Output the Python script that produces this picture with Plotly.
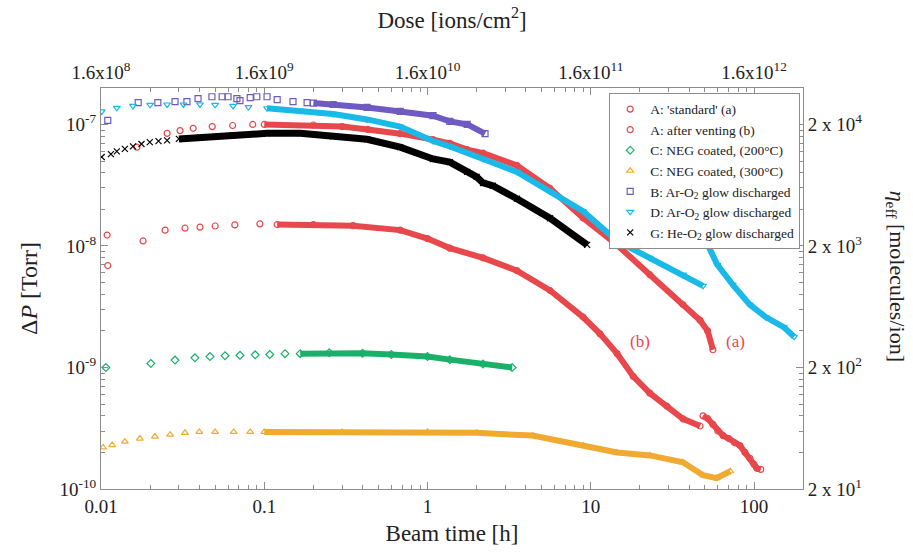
import plotly.graph_objects as go

# ---- measured outgassing data: beam time [h] vs pressure rise [Torr] ----
# A: 'standard' (a)
a_std_t_sparse = [0.0166, 0.0254, 0.0305, 0.0367, 0.048, 0.064, 0.085]
a_std_p_sparse = [6.5e-8, 8.45e-8, 8.9e-8, 9.3e-8, 9.6e-8, 9.8e-8, 1.0e-7]
a_std_t = [0.1, 0.2, 0.3, 0.43, 0.68, 1.08, 1.37, 1.75, 2.19, 3.53, 5.6, 8.97, 14.5, 23, 36.7, 46.7, 52, 56]
a_std_p = [1.0e-7, 9.9e-8, 9.6e-8, 9.1e-8, 8.4e-8, 7.5e-8, 7.0e-8, 6.2e-8, 5.8e-8, 4.6e-8, 3.0e-8, 1.7e-8,
           1.02e-8, 5.8e-9, 3.3e-9, 2.45e-9, 2.0e-9, 1.4e-9]

# A: after venting (b)
a_vent_t_sparse = [0.0109, 0.011, 0.0181, 0.0247, 0.0327, 0.0404, 0.050, 0.066, 0.094]
a_vent_p_sparse = [1.23e-8, 6.9e-9, 1.1e-8, 1.35e-8, 1.4e-8, 1.43e-8, 1.46e-8, 1.49e-8, 1.52e-8]
a_vent_t = [0.12, 0.2, 0.35, 0.68, 1.0, 1.37, 2.19, 3.53, 5.63, 8.97, 11.4, 14.5, 18.2, 23, 29.3, 36.7, 46.7]
a_vent_p = [1.5e-8, 1.5e-8, 1.47e-8, 1.35e-8, 1.15e-8, 9.6e-9, 7.97e-9, 6.27e-9, 4.3e-9, 2.6e-9, 1.89e-9,
            1.3e-9, 8.45e-10, 6.15e-10, 4.8e-10, 3.78e-10, 3.3e-10]
a_vent_tail_t = [48.7, 52, 56, 60, 64.6, 70, 76, 82, 88, 94.4, 100, 104, 110]
a_vent_tail_p = [4.0e-10, 3.8e-10, 3.4e-10, 3.0e-10, 2.75e-10, 2.6e-10, 2.4e-10, 2.28e-10, 2.0e-10, 1.79e-10,
                 1.6e-10, 1.48e-10, 1.45e-10]

# C: NEG coated, 200 C
c200_t_sparse = [0.0107, 0.0202, 0.0284, 0.0376, 0.0465, 0.0575, 0.071, 0.088, 0.108, 0.134]
c200_p_sparse = [1.0e-9, 1.08e-9, 1.15e-9, 1.2e-9, 1.23e-9, 1.25e-9, 1.26e-9, 1.27e-9, 1.28e-9, 1.3e-9]
c200_t = [0.166, 0.25, 0.4, 0.6, 1.0, 1.37, 2.19, 3.3]
c200_p = [1.3e-9, 1.32e-9, 1.31e-9, 1.28e-9, 1.23e-9, 1.16e-9, 1.07e-9, 1.0e-9]

# C: NEG coated, 300 C
c300_t_sparse = [0.0103, 0.0117, 0.014, 0.0173, 0.0214, 0.0265, 0.0327, 0.04, 0.05, 0.065, 0.082]
c300_p_sparse = [2.2e-10, 2.3e-10, 2.45e-10, 2.6e-10, 2.7e-10, 2.8e-10, 2.9e-10, 2.95e-10, 2.95e-10,
                 2.95e-10, 2.95e-10]
c300_t = [0.1, 0.3, 1.0, 2.0, 4.4, 9.0, 14.5, 23, 36.7, 48.7, 59, 71.5]
c300_p = [2.95e-10, 2.95e-10, 2.95e-10, 2.9e-10, 2.75e-10, 2.28e-10, 2.0e-10, 1.89e-10, 1.66e-10, 1.3e-10,
          1.23e-10, 1.4e-10]

# B: Ar-O2 glow discharged
b_t_sparse = [0.0110, 0.0169, 0.0223, 0.0284, 0.0336, 0.0393, 0.0478, 0.0552, 0.060, 0.068, 0.071, 0.082,
              0.090, 0.104, 0.12, 0.15, 0.183]
b_p_sparse = [1.08e-7, 1.51e-7, 1.51e-7, 1.54e-7, 1.54e-7, 1.63e-7, 1.69e-7, 1.69e-7, 1.69e-7, 1.63e-7,
              1.57e-7, 1.66e-7, 1.69e-7, 1.69e-7, 1.6e-7, 1.54e-7, 1.51e-7]
b_t = [0.2, 0.264, 0.426, 0.68, 1.08, 1.37, 1.75, 2.25]
b_p = [1.5e-7, 1.46e-7, 1.38e-7, 1.28e-7, 1.18e-7, 1.06e-7, 1.0e-7, 8.4e-8]

# D: Ar-O2 glow discharged (two runs)
d_t_sparse = [0.0101, 0.0125, 0.0157, 0.02, 0.0254, 0.032, 0.0404, 0.05, 0.0644, 0.08]
d_p_sparse = [1.28e-7, 1.37e-7, 1.42e-7, 1.45e-7, 1.46e-7, 1.46e-7, 1.46e-7, 1.45e-7, 1.42e-7, 1.39e-7]
d_t = [0.104, 0.166, 0.264, 0.426, 0.68, 1.08, 1.37, 2.19, 3.53, 5.63, 8.97, 14.5, 23, 36.7, 48.7]
d_p = [1.36e-7, 1.3e-7, 1.22e-7, 1.1e-7, 9.6e-8, 7.3e-8, 6.6e-8, 5.2e-8, 4.07e-8, 2.8e-8, 1.93e-8, 1.1e-8,
       8.0e-9, 5.8e-9, 4.7e-9]
d2_t = [48.7, 59.6, 74, 94, 118, 152, 176]
d2_p = [1.23e-8, 7.0e-9, 4.8e-9, 3.3e-9, 2.6e-9, 2.15e-9, 1.79e-9]

# G: He-O2 glow discharged
g_t_sparse = [0.0101, 0.0115, 0.0125, 0.014, 0.0157, 0.0177, 0.0199, 0.0225, 0.0254]
g_p_sparse = [5.4e-8, 5.7e-8, 6.0e-8, 6.3e-8, 6.6e-8, 6.9e-8, 7.15e-8, 7.3e-8, 7.4e-8]
g_t = [0.03, 0.0404, 0.0644, 0.104, 0.166, 0.264, 0.426, 0.68, 1.08, 1.37, 1.75, 2.0, 2.19, 2.51, 3.53, 5.63, 9.5]
g_p = [7.6e-8, 7.84e-8, 8.14e-8, 8.45e-8, 8.45e-8, 7.98e-8, 7.55e-8, 6.5e-8, 5.2e-8, 4.9e-8, 4.07e-8, 3.7e-8,
       3.3e-8, 3.13e-8, 2.45e-8, 1.69e-8, 1.02e-8]

# ---- axis labels ----
time_ticks = [0.01, 0.1, 1, 10, 100]
time_labels = ["0.01", "0.1", "1", "10", "100"]
dose_labels = ["1.6x10<sup>8</sup>", "1.6x10<sup>9</sup>", "1.6x10<sup>10</sup>",
               "1.6x10<sup>11</sup>", "1.6x10<sup>12</sup>"]
p_ticks = [1e-10, 1e-9, 1e-8, 1e-7]
p_labels = ["10<sup>-10</sup>", "10<sup>-9</sup>", "10<sup>-8</sup>", "10<sup>-7</sup>"]
eta_labels = ["2 x 10<sup>1</sup>", "2 x 10<sup>2</sup>", "2 x 10<sup>3</sup>", "2 x 10<sup>4</sup>"]

RED = "#E8474B"
GREEN = "#19B06A"
ORANGE = "#F0AA32"
PURPLE = "#6E5AC2"
CYAN = "#19B9E8"
BLACK = "#000000"
FONT = "Liberation Serif"
AXIS_GREY = "#8c8c8c"

# (label, colour, symbol, [(t, p, dense, on_secondary_axes)])
series = [
    ("A: 'standard' (a)", RED, "circle-open",
     [(a_std_t_sparse, a_std_p_sparse, False, False), (a_std_t, a_std_p, True, False)]),
    ("A: after venting (b)", RED, "circle-open",
     [(a_vent_t_sparse, a_vent_p_sparse, False, False), (a_vent_t, a_vent_p, True, False),
      (a_vent_tail_t, a_vent_tail_p, True, False)]),
    ("C: NEG coated, (200°C)", GREEN, "diamond-open",
     [(c200_t_sparse, c200_p_sparse, False, False), (c200_t, c200_p, True, False)]),
    ("C: NEG coated, (300°C)", ORANGE, "triangle-up-open",
     [(c300_t_sparse, c300_p_sparse, False, False), (c300_t, c300_p, True, False)]),
    ("B: Ar-O<sub>2</sub> glow discharged", PURPLE, "square-open",
     [(b_t_sparse, b_p_sparse, False, False), (b_t, b_p, True, False)]),
    ("D: Ar-O<sub>2</sub> glow discharged", CYAN, "triangle-down-open",
     [(d_t_sparse, d_p_sparse, False, False), (d_t, d_p, True, False), (d2_t, d2_p, True, True)]),
    ("G: He-O<sub>2</sub> glow discharged", BLACK, "x-thin",
     [(g_t_sparse, g_p_sparse, False, False), (g_t, g_p, True, False)]),
]

fig = go.Figure()
for name, color, symbol, parts in series:
    for i, (t, p, dense, secondary) in enumerate(parts):
        fig.add_trace(go.Scatter(
            x=t, y=p, name=name, legendgroup=name, showlegend=(i == 0),
            xaxis="x2" if secondary else "x", yaxis="y2" if secondary else "y",
            mode="lines+markers" if dense else "markers",
            line=dict(color=color, width=7 if color == BLACK else 6),
            marker=dict(symbol=symbol, size=6, color=color, line=dict(color=color, width=1.2)),
        ))

axis_common = dict(
    type="log", showgrid=False, zeroline=False, showline=True, linecolor=AXIS_GREY, linewidth=1,
    ticks="inside", ticklen=7, tickcolor=AXIS_GREY, tickfont=dict(family=FONT, size=19, color="#222"),
)
minor_x = dict(ticks="inside", ticklen=4, tickcolor=AXIS_GREY, tickmode="array",
               tickvals=[m * 10 ** e for e in range(-2, 3) for m in range(2, 10)])
minor_y = dict(ticks="inside", ticklen=4, tickcolor=AXIS_GREY, tickmode="array",
               tickvals=[m * 10 ** e for e in range(-10, -6) for m in range(2, 10)])

fig.update_layout(
    width=913, height=554,
    margin=dict(l=101, r=110, t=88, b=61),
    paper_bgcolor="white", plot_bgcolor="white",
    font=dict(family=FONT, color="#222"),
    xaxis=dict(axis_common, range=[-2, 2.3], tickmode="array", tickvals=time_ticks, ticktext=time_labels,
               minor=minor_x,
               title=dict(text="Beam time [h]", font=dict(family=FONT, size=23), standoff=9)),
    xaxis2=dict(axis_common, range=[-2, 2.3], overlaying="x", side="top", anchor="y",
                tickmode="array", tickvals=time_ticks, ticktext=dose_labels, minor=minor_x,
                title=dict(text="Dose [ions/cm<sup>2</sup>]", font=dict(family=FONT, size=23), standoff=24)),
    yaxis=dict(axis_common, range=[-10, -6.7], tickmode="array", tickvals=p_ticks, ticktext=p_labels,
               minor=minor_y,
               title=dict(text="Δ<i>P</i> [Torr]", font=dict(family=FONT, size=24), standoff=15)),
    yaxis2=dict(axis_common, range=[-10, -6.7], overlaying="y", side="right", anchor="x",
                tickmode="array", tickvals=p_ticks, ticktext=eta_labels, minor=minor_y),
    legend=dict(x=0.996, y=0.988, xanchor="right", yanchor="top", bgcolor="white",
                bordercolor=AXIS_GREY, borderwidth=1, tracegroupgap=0,
                font=dict(family=FONT, size=13.5, color="#222"), itemwidth=30),
    annotations=[
        dict(text="(a)", x=1.884, y=-8.79, xref="x", yref="y", showarrow=False,
             font=dict(family=FONT, size=17, color=RED)),
        dict(text="(b)", x=1.302, y=-8.79, xref="x", yref="y", showarrow=False,
             font=dict(family=FONT, size=17, color=RED)),
        dict(text="<i>η</i><sub>eff</sub> [molecules/ion]", x=1.155, y=0.53, xref="paper", yref="paper",
             textangle=90, showarrow=False, font=dict(family=FONT, size=22, color="#222")),
    ],
)

fig.write_html("out.html")
